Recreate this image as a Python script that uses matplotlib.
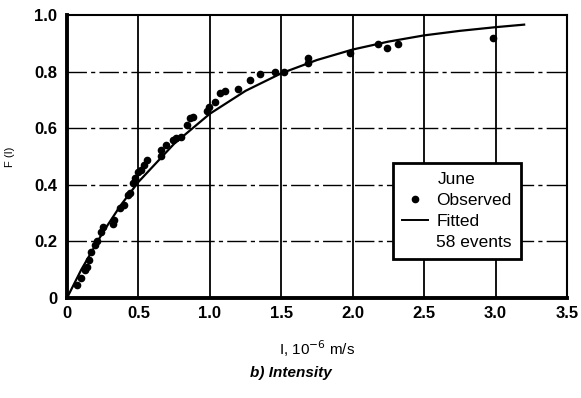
import matplotlib
matplotlib.use("Agg")
import matplotlib.pyplot as plt
from matplotlib.lines import Line2D

plt.rcParams['font.family'] = ['Liberation Sans', 'DejaVu Sans']

# observed cumulative frequencies, June (intensity in 1e-6 m/s)
obs_i = [0.07, 0.096, 0.126, 0.14, 0.156, 0.17, 0.196, 0.21, 0.235, 0.25,
         0.32, 0.33, 0.37, 0.40, 0.43, 0.44, 0.46, 0.475, 0.50,
         0.52, 0.54, 0.557, 0.655, 0.66, 0.69, 0.74, 0.76, 0.80, 0.84,
         0.86, 0.88, 0.98, 0.995, 1.035, 1.07, 1.105, 1.20,
         1.28, 1.35, 1.455, 1.52, 1.69, 1.69,
         1.98, 2.18, 2.24, 2.32, 2.98]
obs_f = [0.046, 0.07, 0.099, 0.11, 0.134, 0.164, 0.187, 0.20, 0.234, 0.25,
         0.26, 0.276, 0.318, 0.33, 0.364, 0.37, 0.405, 0.424, 0.446,
         0.452, 0.47, 0.488, 0.50, 0.523, 0.54, 0.558, 0.565, 0.57, 0.61,
         0.635, 0.64, 0.66, 0.676, 0.694, 0.723, 0.73, 0.74,
         0.77, 0.79, 0.797, 0.80, 0.83, 0.847,
         0.865, 0.897, 0.882, 0.897, 0.918]

# fitted distribution
fit_i = [0.0, 0.1, 0.25, 0.375, 0.5, 0.75, 1.0, 1.25, 1.5, 1.75, 2.0,
         2.25, 2.5, 2.75, 3.0, 3.2]
fit_f = [0.0, 0.10, 0.231, 0.327, 0.41, 0.545, 0.651, 0.732, 0.794, 0.841,
         0.878, 0.906, 0.928, 0.944, 0.957, 0.966]

xticks = [0, 0.5, 1.0, 1.5, 2.0, 2.5, 3.0, 3.5]
xlabels = ['0', '0.5', '1.0', '1.5', '2.0', '2.5', '3.0', '3.5']
yticks = [0, 0.2, 0.4, 0.6, 0.8, 1.0]
ylabels = ['0', '0.2', '0.4', '0.6', '0.8', '1.0']

fig = plt.figure(figsize=(5.81, 3.98), dpi=100)
ax = fig.add_axes([0.1153, 0.2513, 0.8606, 0.711])

for x in xticks[1:-1]:
    ax.axvline(x, color='black', lw=1.3, zorder=1)
for y in yticks[1:-1]:
    ax.axhline(y, color='black', lw=1.0, dashes=(14, 3, 3, 3), zorder=1)

ax.plot(fit_i, fit_f, color='black', lw=1.6, zorder=3)
ax.plot(obs_i, obs_f, 'o', color='black', ms=4.5, zorder=4)

ax.set_xlim(0, 3.5)
ax.set_ylim(0, 1.0)
ax.set_xticks(xticks)
ax.set_xticklabels(xlabels)
ax.set_yticks(yticks)
ax.set_yticklabels(ylabels)
ax.tick_params(length=0, labelsize=12, pad=7)
ax.tick_params(axis='x', pad=6)
for lab in ax.get_xticklabels() + ax.get_yticklabels():
    lab.set_fontweight('bold')

for side in ['left', 'bottom']:
    ax.spines[side].set_linewidth(2.8)
for side in ['top', 'right']:
    ax.spines[side].set_linewidth(1.5)

ax.set_ylabel('F (I)', fontsize=8, labelpad=14)
ax.set_xlabel('I, 10$^{-6}$ m/s', fontsize=11, labelpad=12)
fig.text(0.5, 0.063, 'b) Intensity', ha='center', va='center',
         fontsize=11, fontweight='bold', style='italic')

handles = [Line2D([], [], ls='none', marker='o', color='black', ms=4.5),
           Line2D([], [], color='black', lw=1.4),
           Line2D([], [], ls='none')]
leg = ax.legend(handles, ['Observed', 'Fitted', '58 events'], title='June',
                loc='lower left', bbox_to_anchor=(0.652, 0.138),
                fontsize=12.5, title_fontsize=12.5, fancybox=False,
                framealpha=1, edgecolor='black', handlelength=1.5,
                handletextpad=0.5, labelspacing=0.35, borderpad=0.5,
                borderaxespad=0)
leg.get_frame().set_linewidth(2)
leg.set_zorder(5)

fig.savefig('out.png', dpi=100)
